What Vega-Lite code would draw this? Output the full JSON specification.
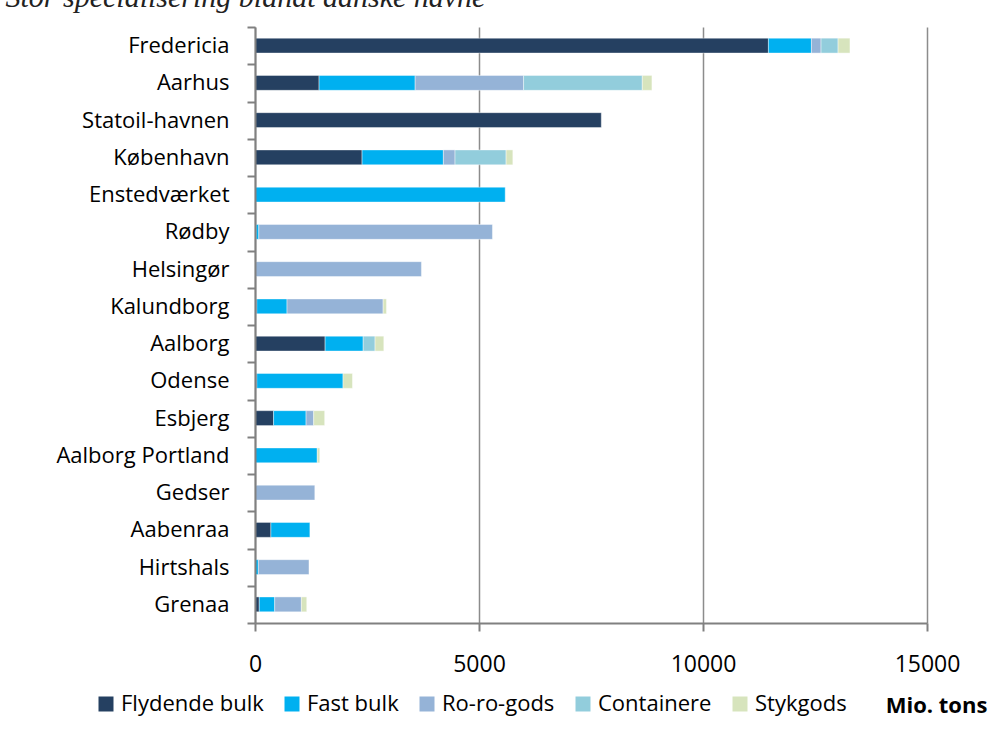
{
  "$schema": "https://vega.github.io/schema/vega-lite/v6.json",
  "width": 672,
  "height": 596,
  "autosize": {"type": "none"},
  "padding": {"left": 255, "top": 27, "right": 73, "bottom": 117},
  "background": "white",
  "data": {
    "values": [
      {"havn": "Fredericia", "type": "Flydende bulk", "k": 1, "v": 11460},
      {"havn": "Fredericia", "type": "Fast bulk", "k": 2, "v": 960},
      {"havn": "Fredericia", "type": "Ro-ro-gods", "k": 3, "v": 215},
      {"havn": "Fredericia", "type": "Containere", "k": 4, "v": 380},
      {"havn": "Fredericia", "type": "Stykgods", "k": 5, "v": 265},
      {"havn": "Aarhus", "type": "Flydende bulk", "k": 1, "v": 1430},
      {"havn": "Aarhus", "type": "Fast bulk", "k": 2, "v": 2145},
      {"havn": "Aarhus", "type": "Ro-ro-gods", "k": 3, "v": 2420},
      {"havn": "Aarhus", "type": "Containere", "k": 4, "v": 2650},
      {"havn": "Aarhus", "type": "Stykgods", "k": 5, "v": 215},
      {"havn": "Statoil-havnen", "type": "Flydende bulk", "k": 1, "v": 7730},
      {"havn": "København", "type": "Flydende bulk", "k": 1, "v": 2390},
      {"havn": "København", "type": "Fast bulk", "k": 2, "v": 1815},
      {"havn": "København", "type": "Ro-ro-gods", "k": 3, "v": 260},
      {"havn": "København", "type": "Containere", "k": 4, "v": 1140},
      {"havn": "København", "type": "Stykgods", "k": 5, "v": 150},
      {"havn": "Enstedværket", "type": "Fast bulk", "k": 2, "v": 5585},
      {"havn": "Rødby", "type": "Flydende bulk", "k": 1, "v": 25},
      {"havn": "Rødby", "type": "Fast bulk", "k": 2, "v": 60},
      {"havn": "Rødby", "type": "Ro-ro-gods", "k": 3, "v": 5215},
      {"havn": "Helsingør", "type": "Ro-ro-gods", "k": 3, "v": 3715},
      {"havn": "Kalundborg", "type": "Flydende bulk", "k": 1, "v": 40},
      {"havn": "Kalundborg", "type": "Fast bulk", "k": 2, "v": 675},
      {"havn": "Kalundborg", "type": "Ro-ro-gods", "k": 3, "v": 2145},
      {"havn": "Kalundborg", "type": "Stykgods", "k": 5, "v": 75},
      {"havn": "Aalborg", "type": "Flydende bulk", "k": 1, "v": 1565},
      {"havn": "Aalborg", "type": "Fast bulk", "k": 2, "v": 850},
      {"havn": "Aalborg", "type": "Containere", "k": 4, "v": 265},
      {"havn": "Aalborg", "type": "Stykgods", "k": 5, "v": 195},
      {"havn": "Odense", "type": "Flydende bulk", "k": 1, "v": 40},
      {"havn": "Odense", "type": "Fast bulk", "k": 2, "v": 1925},
      {"havn": "Odense", "type": "Stykgods", "k": 5, "v": 210},
      {"havn": "Esbjerg", "type": "Flydende bulk", "k": 1, "v": 415},
      {"havn": "Esbjerg", "type": "Fast bulk", "k": 2, "v": 725},
      {"havn": "Esbjerg", "type": "Ro-ro-gods", "k": 3, "v": 170},
      {"havn": "Esbjerg", "type": "Stykgods", "k": 5, "v": 245},
      {"havn": "Aalborg Portland", "type": "Fast bulk", "k": 2, "v": 1390},
      {"havn": "Aalborg Portland", "type": "Stykgods", "k": 5, "v": 55},
      {"havn": "Gedser", "type": "Ro-ro-gods", "k": 3, "v": 1335},
      {"havn": "Aabenraa", "type": "Flydende bulk", "k": 1, "v": 355},
      {"havn": "Aabenraa", "type": "Fast bulk", "k": 2, "v": 870},
      {"havn": "Hirtshals", "type": "Fast bulk", "k": 2, "v": 75},
      {"havn": "Hirtshals", "type": "Ro-ro-gods", "k": 3, "v": 1130},
      {"havn": "Grenaa", "type": "Flydende bulk", "k": 1, "v": 95},
      {"havn": "Grenaa", "type": "Fast bulk", "k": 2, "v": 345},
      {"havn": "Grenaa", "type": "Ro-ro-gods", "k": 3, "v": 595},
      {"havn": "Grenaa", "type": "Stykgods", "k": 5, "v": 120}
    ]
  },
  "mark": {"type": "bar", "height": {"band": 0.4}, "stroke": "white", "strokeWidth": 0.6, "strokeOpacity": 0.7},
  "encoding": {
    "y": {
      "field": "havn",
      "type": "nominal",
      "sort": ["Fredericia", "Aarhus", "Statoil-havnen", "København", "Enstedværket", "Rødby", "Helsingør", "Kalundborg", "Aalborg", "Odense", "Esbjerg", "Aalborg Portland", "Gedser", "Aabenraa", "Hirtshals", "Grenaa"],
      "scale": {"paddingInner": 0, "paddingOuter": 0},
      "axis": {
        "title": "Stor specialisering blandt danske havne",
        "titleFont": "Liberation Serif",
        "titleFontStyle": "italic",
        "titleFontWeight": "normal",
        "titleFontSize": 30,
        "titleColor": "#222222",
        "titleAngle": 0,
        "titleAlign": "left",
        "titleBaseline": "alphabetic",
        "titleX": -250,
        "titleY": -21,
        "zindex": 1,
        "domain": true,
        "ticks": true,
        "tickBand": "extent",
        "tickSize": 8,
        "tickColor": "#808080",
        "tickWidth": 2,
        "domainColor": "#808080",
        "domainWidth": 2,
        "labelFont": "Open Sans",
        "labelFontSize": 22,
        "labelColor": "#000000",
        "labelPadding": 18,
        "labelLimit": 300
      }
    },
    "x": {
      "field": "v",
      "type": "quantitative",
      "stack": "zero",
      "scale": {"domain": [0, 15000], "nice": false},
      "axis": {
        "values": [0, 5000, 10000, 15000],
        "format": "d",
        "zindex": 0,
        "grid": true,
        "gridColor": "#8c8c8c",
        "gridWidth": 1.5,
        "tickSize": 8,
        "tickColor": "#808080",
        "tickWidth": 2,
        "domainColor": "#808080",
        "domainWidth": 2,
        "labelFont": "Open Sans",
        "labelFontSize": 23,
        "labelColor": "#000000",
        "labelPadding": 22,
        "labelFlush": false,
        "title": "Mio. tons",
        "titleFont": "Open Sans",
        "titleFontSize": 22,
        "titleFontWeight": "bold",
        "titleColor": "#000000",
        "titleAlign": "center",
        "titleBaseline": "middle",
        "titleX": 681,
        "titleY": 82
      }
    },
    "color": {
      "field": "type",
      "type": "nominal",
      "scale": {
        "domain": ["Flydende bulk", "Fast bulk", "Ro-ro-gods", "Containere", "Stykgods"],
        "range": ["#254061", "#00B0F0", "#95B3D7", "#92CDDC", "#D7E4BD"]
      },
      "legend": {
        "title": null,
        "orient": "none",
        "legendX": -160,
        "legendY": 666,
        "direction": "horizontal",
        "columns": 5,
        "columnPadding": 17,
        "symbolType": "square",
        "symbolSize": 225,
        "symbolStrokeWidth": 0,
        "symbolOffset": 0,
        "labelFont": "Open Sans",
        "labelFontSize": 22,
        "labelColor": "#000000",
        "labelOffset": 4
      }
    },
    "order": {"field": "k", "type": "quantitative"}
  },
  "config": {"view": {"stroke": null}}
}
